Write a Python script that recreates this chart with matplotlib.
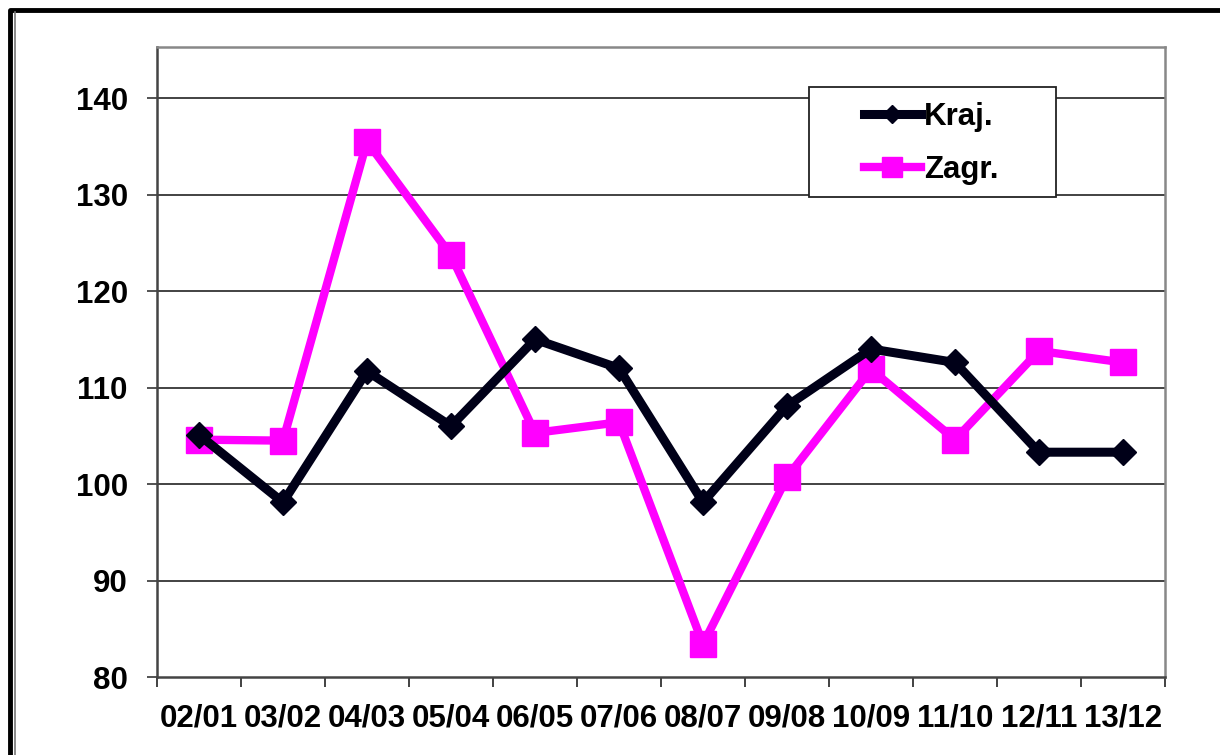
import matplotlib
matplotlib.use("Agg")
import matplotlib.pyplot as plt
from matplotlib.lines import Line2D
from matplotlib.patches import Rectangle

periods = ["02/01", "03/02", "04/03", "05/04", "06/05", "07/06",
           "08/07", "09/08", "10/09", "11/10", "12/11", "13/12"]
kraj = [105.1, 98.1, 111.7, 106.0, 115.0, 112.0, 98.1, 108.1, 114.0, 112.6, 103.3, 103.3]
zagr = [104.6, 104.5, 135.5, 123.7, 105.3, 106.4, 83.4, 100.7, 111.9, 104.6, 113.8, 112.6]
yticks = [80, 90, 100, 110, 120, 130, 140]

plt.rcParams['font.family'] = ['Liberation Sans', 'DejaVu Sans']
plt.rcParams['font.weight'] = 'bold'

W, H = 1220, 755
fig = plt.figure(figsize=(W / 100, H / 100), dpi=100)
ax = fig.add_axes([157 / W, 1 - 677 / H, 1008 / W, 630 / H])

x = list(range(len(periods)))
kraj_col = "#000018"
zagr_col = "#ff00ff"
fs = 22.5

ax.plot(x, zagr, color=zagr_col, lw=6, marker='s', ms=18.5, mec=zagr_col, zorder=3)
ax.plot(x, kraj, color=kraj_col, lw=6.5, marker='D', ms=13, mec=kraj_col, zorder=4)

ax.set_xlim(-0.5, len(periods) - 0.5)
ax.set_ylim(80, 145.3)
ax.set_yticks(yticks)
ax.set_yticklabels([str(v) for v in yticks])
for v in yticks[1:]:
    ax.axhline(v, color="#222222", lw=1.2, zorder=1)

# category boundaries as ticks, labels in between
ax.set_xticks([i - 0.5 for i in range(len(periods) + 1)])
ax.set_xticklabels([])
ax.set_xticks(x, minor=True)
ax.set_xticklabels(periods, minor=True)
ax.tick_params(axis='x', which='major', length=7, width=1.3, color="#333333", direction='out')
ax.tick_params(axis='x', which='minor', length=0, pad=19, labelsize=fs)
ax.tick_params(axis='y', length=7, width=1.3, color="#444444", pad=14, labelsize=fs)

ax.spines['top'].set_color("#888888")
ax.spines['right'].set_color("#888888")
ax.spines['left'].set_color("#444444")
ax.spines['bottom'].set_color("#444444")
for s in ax.spines.values():
    s.set_linewidth(1.8)

# legend
handles = [
    Line2D([], [], color=kraj_col, lw=6.5, marker='D', ms=9.5, mec=kraj_col),
    Line2D([], [], color=zagr_col, lw=6, marker='s', ms=14, mec=zagr_col),
]
fig.legend(handles, ["Kraj.", "Zagr."], loc='center',
           bbox_to_anchor=(931 / W, 1 - 143.5 / H), frameon=False,
           fontsize=fs, handlelength=1.85, handletextpad=0.08, labelspacing=0.75)
fig.add_artist(Rectangle((809 / W, 1 - 197 / H), 247 / W, 110 / H,
                         transform=fig.transFigure, fill=True, facecolor='white',
                         edgecolor='#222222', lw=1.3, zorder=2))
fig.legends[0].set_zorder(5)

# outer frame of the picture
fig.add_artist(Line2D([9.5 / W, 9.5 / W, 1.0], [0, 1 - 9.5 / H, 1 - 9.5 / H],
                      transform=fig.transFigure, color='black', lw=3.5))
fig.add_artist(Line2D([15 / W, 15 / W], [0, 1 - 12 / H],
                      transform=fig.transFigure, color='#777777', lw=1.2))

fig.savefig("out.png", dpi=100)
